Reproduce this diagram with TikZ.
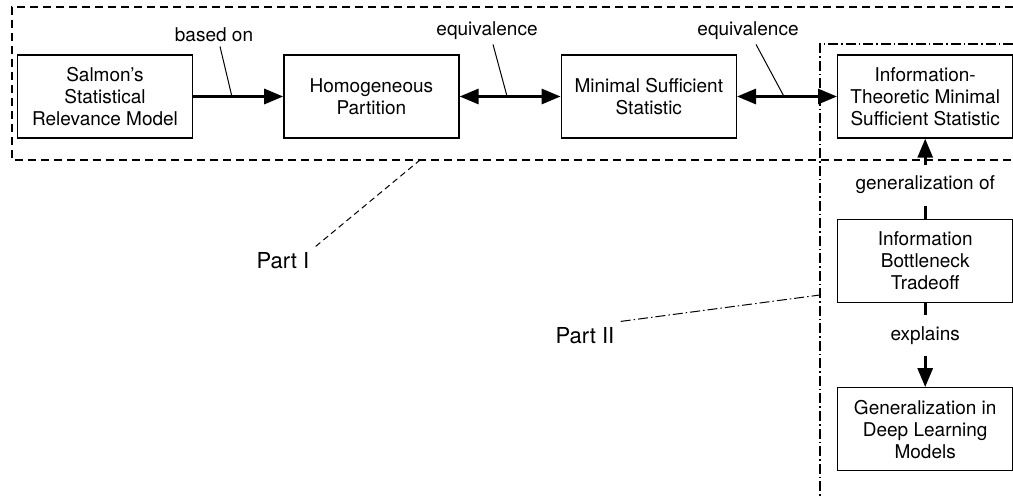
\documentclass[tikz,border=0pt]{standalone}
\usepackage{fontspec}
\setmainfont{TeX Gyre Heros}
\usetikzlibrary{positioning}
\usetikzlibrary{arrows.meta}

\tikzset{
  block/.style={draw, line width=0.7pt, align=center, inner sep=1pt,
    minimum width=87.5pt, minimum height=41.5pt,
    font=\fontsize{9.5}{11}\selectfont},
  link/.style={line width=1.5pt, -{Triangle[length=9.5pt,width=7.5pt]}},
  twoway/.style={line width=1.5pt,
    {Triangle[length=9.5pt,width=7.5pt]}-{Triangle[length=9.5pt,width=7.5pt]}},
  plainlink/.style={line width=1.5pt},
  tag/.style={inner sep=2pt, font=\fontsize{9.5}{11}\selectfont},
  edgetag/.style={inner xsep=2pt, inner ysep=5.5pt, font=\fontsize{9.5}{11}\selectfont},
  leader/.style={line width=0.5pt},
  parttag/.style={inner sep=3pt, font=\fontsize{11}{13}\selectfont},
  partone/.style={line width=0.6pt, dash pattern=on 4pt off 2.5pt},
  parttwo/.style={line width=0.6pt, dash pattern=on 5pt off 1.5pt on 0.75pt off 1.5pt},
}

\begin{document}
\begin{tikzpicture}[x=0.5pt,y=-0.5pt]
  \useasboundingbox (0,0) rectangle (1013,497);

  % Place nodes
  \node[block] (salmon) at (105,96.5) {Salmon's\\Statistical\\Relevance Model};
  \node[block, right=45pt of salmon] (homog) {Homogeneous\\Partition};
  \node[block, right=50.5pt of homog] (minsuff) {Minimal Sufficient\\Statistic};
  \node[block, right=50pt of minsuff] (itmss) {Information-\\Theoretic Minimal\\Sufficient Statistic};
  \node[block, below=40pt of itmss] (ib) {Information\\Bottleneck\\Tradeoff};
  \node[block, below=42pt of ib] (deep) {Generalization in\\Deep Learning\\Models};

  % Horizontal links with their labels
  \draw[link] (salmon) -- coordinate[pos=0.43] (on1) (homog);
  \node[tag] (basedon) at (214,35) {based on};
  \draw[leader] ([xshift=3pt]basedon.south) -- (on1);

  \draw[twoway] (homog) -- coordinate[pos=0.47] (on2) (minsuff);
  \node[tag] (equiv1) at (487,31) {equivalence};
  \draw[leader] ([xshift=3pt]equiv1.south) -- (on2);

  \draw[twoway] (minsuff) -- coordinate[pos=0.47] (on3) (itmss);
  \node[tag] (equiv2) at (748,31) {equivalence};
  \draw[leader] ([xshift=4pt]equiv2.south) -- (on3);

  % Vertical links, broken by their labels
  \path (ib) -- node[edgetag, pos=0.42] (genof) {generalization of} (itmss);
  \draw[plainlink] (ib) -- (genof);
  \draw[link] (genof) -- (itmss);

  \path (ib) -- node[edgetag, pos=0.39] (explains) {explains} (deep);
  \draw[plainlink] (ib) -- (explains);
  \draw[link] (explains) -- (deep);

  % Part frames
  \draw[partone] (1013,7) -- (12,7) -- (12,160) -- (1013,160);
  \draw[parttwo] (1013,44) -- (820,44) -- (820,497);

  \coordinate (frame1) at (420,160);
  \coordinate (frame2) at (820,295);
  \node[parttag] (part1) at (283,261) {Part I};
  \node[parttag] (part2) at (585,336) {Part II};
  \draw[partone, line width=0.5pt, dash pattern=on 3pt off 2pt] (part1.north east) -- (frame1);
  \draw[parttwo, line width=0.5pt] (part2.north east) -- (frame2);
\end{tikzpicture}
\end{document}
